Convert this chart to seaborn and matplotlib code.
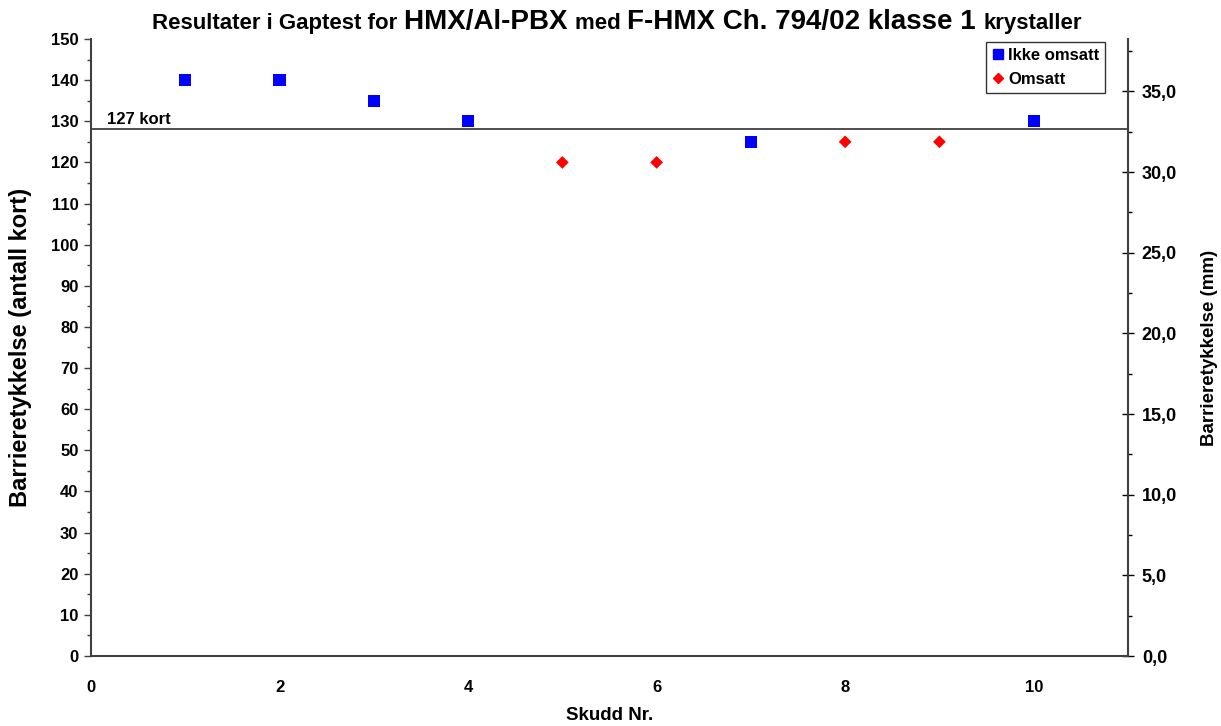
import numpy as np
import pandas as pd
import matplotlib
matplotlib.use("Agg")
import matplotlib.pyplot as plt
from matplotlib.ticker import MultipleLocator, FuncFormatter
from matplotlib.lines import Line2D
import seaborn as sns

# ----- data -----
ikke_x = [1, 2, 3, 4, 7, 10]
ikke_y = [140, 140, 135, 130, 125, 130]
omsatt_x = [5, 6, 8, 9]
omsatt_y = [120, 120, 125, 125]
grense = 128          # horizontal line ("127 kort")
mm_per_kort = 0.255   # right axis conversion

df = pd.concat([
    pd.DataFrame({"skudd": ikke_x, "kort": ikke_y, "serie": "Ikke omsatt"}),
    pd.DataFrame({"skudd": omsatt_x, "kort": omsatt_y, "serie": "Omsatt"}),
])

sns.set_style("white")
plt.rcParams["font.family"] = ["Liberation Sans", "DejaVu Sans"]
plt.rcParams["font.weight"] = "bold"
for k in ["text.color", "axes.labelcolor", "xtick.color", "ytick.color"]:
    plt.rcParams[k] = "black"

fig = plt.figure(figsize=(12.21, 7.26), dpi=100)
ax = fig.add_axes([0.0745, 0.0964, 0.8493, 0.8499])

sns.scatterplot(data=df, x="skudd", y="kort", hue="serie", style="serie",
                markers={"Ikke omsatt": "s", "Omsatt": "D"},
                palette={"Ikke omsatt": "#0000FF", "Omsatt": "#FF0000"},
                s=75, linewidth=0, ax=ax, zorder=3, legend=False)
# make the diamonds a bit smaller
ax.collections[0].set_sizes([75 if s == "Ikke omsatt" else 42 for s in df["serie"]])

ax.axhline(grense, color="#404040", lw=1.3, zorder=2)
ax.text(0.17, grense + 0.6, "127 kort", fontsize=12, fontweight="bold", va="bottom")

ax.set_xlim(0, 11)
ax.set_ylim(0, 150)
ax.xaxis.set_major_locator(MultipleLocator(2))
ax.yaxis.set_major_locator(MultipleLocator(10))
ax.yaxis.set_minor_locator(MultipleLocator(5))
ax.tick_params(axis="both", which="major", direction="out", length=5, width=1,
               labelsize=12, color="#404040", labelcolor="black", pad=4)
ax.tick_params(axis="y", which="minor", direction="out", length=3, width=1, color="#404040")
ax.tick_params(axis="x", pad=12)
for lab in ax.get_xticklabels() + ax.get_yticklabels():
    lab.set_fontweight("bold")

ax.spines["top"].set_visible(False)
for side in ["left", "bottom", "right"]:
    ax.spines[side].set_color("#404040")
    ax.spines[side].set_linewidth(1.5)

ax.set_xlabel("Skudd Nr.", fontsize=13.5, fontweight="bold", va="center")
ax.xaxis.set_label_coords(0.5, -0.0956)
ax.set_ylabel("Barrieretykkelse (antall kort)", fontsize=17, fontweight="bold", va="center")
ax.yaxis.set_label_coords(-0.0675, 0.5)

# right axis in mm
ax2 = ax.twinx()
ax2.set_ylim(0, 150 * mm_per_kort)
ax2.yaxis.set_major_locator(MultipleLocator(5))
ax2.yaxis.set_minor_locator(MultipleLocator(2.5))
ax2.yaxis.set_major_formatter(FuncFormatter(lambda v, p: f"{v:.1f}".replace(".", ",")))
ax2.tick_params(axis="y", which="major", direction="inout", length=8, width=1,
                labelsize=13, color="black", pad=6)
ax2.tick_params(axis="y", which="minor", direction="out", length=3, width=1, color="black")
for lab in ax2.get_yticklabels():
    lab.set_fontweight("bold")
for side in ["top", "left", "bottom"]:
    ax2.spines[side].set_visible(False)
ax2.spines["right"].set_color("black")
ax2.spines["right"].set_linewidth(1.2)
ax2.set_ylabel("Barrieretykkelse (mm)", fontsize=13.5, fontweight="bold", va="center")
ax2.yaxis.set_label_coords(1.079, 0.5)

# legend
handles = [Line2D([], [], ls="none", marker="s", color="#0000FF", markersize=7.5,
                  label="Ikke omsatt"),
           Line2D([], [], ls="none", marker="D", color="#FF0000", markersize=5.5,
                  label="Omsatt")]
leg = ax.legend(handles=handles, loc="upper right", bbox_to_anchor=(0.978, 0.995),
                frameon=True, fancybox=False, edgecolor="black", fontsize=12,
                handletextpad=0.2, borderpad=0.35, labelspacing=0.55, handlelength=0.8,
                borderaxespad=0)
leg.get_frame().set_linewidth(1.0)
for t in leg.get_texts():
    t.set_fontweight("bold")
ax.set_zorder(ax2.get_zorder() + 1)
ax.patch.set_visible(False)

# title with mixed font sizes
pieces = [("Resultater i Gaptest for ", 16), ("HMX/Al-PBX ", 20), ("med ", 16),
          ("F-HMX Ch. 794/02 klasse 1 ", 20), ("krystaller", 16)]
renderer = fig.canvas.get_renderer()
texts = []
total = 0
for s, fs in pieces:
    t = fig.text(0, 0, s, fontsize=fs, fontweight="bold", va="baseline", ha="left")
    w = t.get_window_extent(renderer).width
    texts.append((t, w))
    total += w
x0 = 617 - total / 2
for t, w in texts:
    t.set_position((x0 / 1221, 1 - 29 / 726))
    x0 += w

fig.savefig("out.png", dpi=100)
